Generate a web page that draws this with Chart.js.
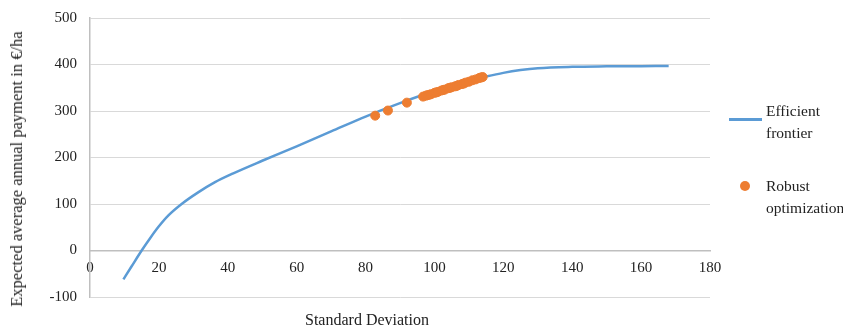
<!DOCTYPE html>
<html>
<head>
    <meta charset="UTF-8">
    <title>Efficient frontier</title>
    <style>
        body {
            margin: 0;
            background-color: white;
            font-family: "Liberation Serif", serif;
        }
        #wrap {
            position: relative;
            width: 843px;
            height: 330px;
        }
        #xTitle {
            position: absolute;
            left: 367px;
            top: 311px;
            transform: translateX(-50%);
            font-size: 16px;
            color: #222;
            white-space: nowrap;
        }
        #yTitle {
            position: absolute;
            left: 17px;
            top: 169px;
            transform: translate(-50%, -50%) rotate(-90deg);
            font-size: 16.5px;
            color: #222;
            white-space: nowrap;
        }
        .leg {
            position: absolute;
            left: 766px;
            font-size: 15.5px;
            line-height: 22px;
            color: #222;
        }
        #legLine {
            position: absolute;
            left: 729px;
            top: 118px;
            width: 33px;
            height: 2.5px;
            background: #5B9BD5;
        }
        #legDot {
            position: absolute;
            left: 740px;
            top: 181px;
            width: 10px;
            height: 10px;
            border-radius: 50%;
            background: #ED7D31;
        }
    </style>
    <script src="https://cdn.jsdelivr.net/npm/chart.js"></script>
</head>
<body>
<div id="wrap">
    <canvas id="frontierChart" width="843" height="330"></canvas>
    <div id="yTitle">Expected average annual payment in €/ha</div>
    <div id="xTitle">Standard Deviation</div>
    <div id="legLine"></div>
    <div class="leg" style="top:100px">Efficient<br>frontier</div>
    <div id="legDot"></div>
    <div class="leg" style="top:175px">Robust<br>optimization</div>
</div>
<script>
    // efficient frontier (std dev -> expected payment)
    const frontierSd  = [9.7, 12, 15, 17.5, 20, 22.7, 26.6, 31.4, 36.3, 41.6, 50, 60, 70, 80, 90, 100, 110, 115, 120, 125, 130, 140, 150, 160, 168];
    const frontierPay = [-62, -35, 0, 27, 52, 75, 100, 125, 147, 166, 193, 224, 256, 288, 317, 343, 365, 374, 382, 388, 392, 395, 396, 396.5, 397];

    // robust optimization solutions
    const robustSd  = [82.8, 86.5, 92, 96.7, 97.5, 98, 98.5, 99, 100, 100.5, 101, 102, 102.5, 103, 104, 104.5, 105, 106, 106.5, 107, 108, 108.5, 109, 110, 111, 112, 113, 113.5, 114];
    const robustPay = [290, 301, 318, 331, 333, 334, 335, 336, 339, 340, 341, 344, 345, 346, 349, 350, 351, 353, 354, 356, 358, 359, 361, 363, 366, 368, 371, 372, 373];

    const toPoints = (xs, ys) => xs.map((x, i) => ({x: x, y: ys[i]}));

    const data = {
        datasets: [{
            type: 'scatter',
            label: 'Robust optimization',
            data: toPoints(robustSd, robustPay),
            backgroundColor: '#ED7D31',
            borderColor: '#ED7D31',
            pointRadius: 4.5,
            order: 1
        }, {
            type: 'line',
            label: 'Efficient frontier',
            data: toPoints(frontierSd, frontierPay),
            borderColor: '#5B9BD5',
            borderWidth: 2.5,
            pointRadius: 0,
            fill: false,
            cubicInterpolationMode: 'monotone',
            order: 2
        }]
    };

    const tickFont = {family: '"Liberation Serif", serif', size: 15};

    const config = {
        data: data,
        options: {
            responsive: false,
            animation: false,
            layout: {
                padding: {top: 18, right: 133, bottom: 33, left: 0}
            },
            plugins: {
                legend: {display: false},
                tooltip: {enabled: false}
            },
            scales: {
                x: {
                    type: 'linear',
                    position: {y: 0},
                    min: 0,
                    max: 180,
                    ticks: {stepSize: 20, font: tickFont, color: '#222', padding: 9},
                    grid: {display: false, drawTicks: false},
                    border: {display: true, color: '#bfbfbf', width: 1.5}
                },
                y: {
                    min: -100,
                    max: 500,
                    afterFit: function (scale) {
                        scale.width = 90;
                        scale.paddingTop = 0;
                        scale.paddingBottom = 0;
                    },
                    ticks: {stepSize: 100, font: tickFont, color: '#222', padding: 13},
                    grid: {color: '#d9d9d9', drawTicks: false},
                    border: {display: true, color: '#bfbfbf', width: 1.5}
                }
            }
        }
    };

    new Chart(document.getElementById('frontierChart'), config);
</script>
</body>
</html>
